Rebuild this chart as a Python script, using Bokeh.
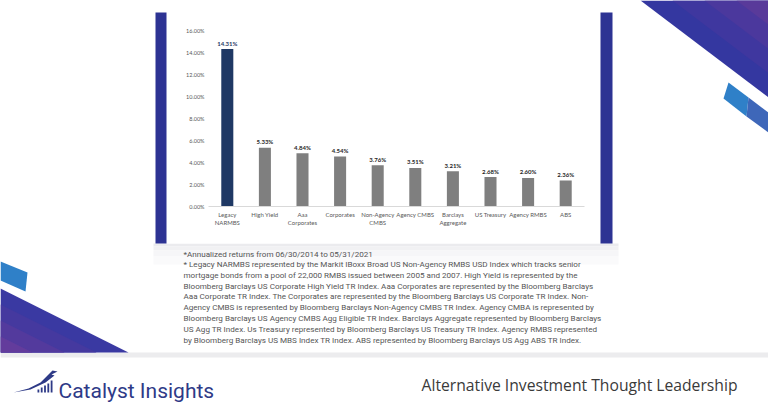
from bokeh.plotting import figure
from bokeh.models import (Range1d, LinearAxis, FixedTicker, PrintfTickFormatter,
                          ColumnDataSource)
from bokeh.embed import file_html
from bokeh.resources import INLINE
from bokeh.core.properties import value

# ---------------- data ----------------
categories = ["Legacy NARMBS", "High Yield", "Aaa Corporates", "Corporates",
              "Non-Agency CMBS", "Agency CMBS", "Barclays Aggregate",
              "US Treasury", "Agency RMBS", "ABS"]
label_line1 = ["Legacy", "High Yield", "Aaa", "Corporates", "Non-Agency",
               "Agency CMBS", "Barclays", "US Treasury", "Agency RMBS", "ABS"]
label_line2 = ["NARMBS", "", "Corporates", "", "CMBS", "", "Aggregate", "", "", ""]
returns = [14.31, 5.33, 4.84, 4.54, 3.76, 3.51, 3.21, 2.68, 2.60, 2.36]
y_ticks = [0, 2, 4, 6, 8, 10, 12, 14, 16]

footnotes = [
    "*Annualized returns from 06/30/2014 to 05/31/2021",
    "* Legacy NARMBS represented by the Markit IBoxx Broad US Non-Agency RMBS USD Index which tracks senior",
    "mortgage bonds from a pool of 22,000 RMBS issued between 2005 and 2007. High Yield is represented by the",
    "Bloomberg Barclays US Corporate High Yield TR Index. Aaa Corporates are represented by the Bloomberg Barclays",
    "Aaa Corporate TR Index. The Corporates are represented by the Bloomberg Barclays US Corporate TR Index. Non-",
    "Agency CMBS is represented by Bloomberg Barclays Non-Agency CMBS TR Index. Agency CMBA is represented by",
    "Bloomberg Barclays US Agency CMBS Agg Eligible TR Index. Barclays Aggregate represented by Bloomberg Barclays",
    "US Agg TR Index. Us Treasury represented by Bloomberg Barclays US Treasury TR Index. Agency RMBS represented",
    "by Bloomberg Barclays US MBS Index TR Index. ABS represented by Bloomberg Barclays US Agg ABS TR Index.",
]
brand = "Catalyst Insights"
tagline = "Alternative Investment Thought Leadership"

# ---------------- layout (pixels) ----------------
W, H = 768, 410
CH_L, CH_R = 208, 584        # chart plotting area, x
CH_ZERO, CH_TOP = 206, 30    # pixel rows of 0% and 16%
Y_MAX = 16
n = len(categories)
ux = (CH_R - CH_L) / n
uy = (CH_ZERO - CH_TOP) / Y_MAX

p = figure(width=W, height=H, x_range=Range1d(0, W), y_range=Range1d(H, 0),
           x_axis_type=None, y_axis_type=None, output_backend="svg",
           toolbar_location=None, min_border=0)
p.min_border_left = p.min_border_right = p.min_border_top = p.min_border_bottom = 0
p.outline_line_color = None
p.background_fill_color = "white"
p.border_fill_color = "white"
p.grid.visible = False
p.extra_x_ranges = {"idx": Range1d(-CH_L / ux, n + (W - CH_R) / ux)}
p.extra_y_ranges = {"pct": Range1d(-(H - CH_ZERO) / uy, Y_MAX + CH_TOP / uy)}

# ---------------- background decorations ----------------
def box(l, r, t, b, color):
    p.quad(left=l, right=r, top=t, bottom=b, fill_color=color, line_color=None)


def poly(xs, ys, color):
    p.patch(xs, ys, fill_color=color, line_color=None)


# soft shadow under the panel and footer separator
for t, b, col in [(243, 246, "#ebebee"), (246, 250, "#f1f1f3"),
                  (250, 256, "#f6f6f8"), (256, 264, "#fafafb")]:
    box(153, 618, t, b, col)
box(0, W, 352, 357, "#ececee")

# top-right purple triangle (gradient by nested triangles)
for s, col in [(1.0, "#3437a0"), (0.75, "#3f379f"), (0.5, "#4b389d"), (0.25, "#593a9a")]:
    poly([768 - 128 * s, 768, 768], [0, 0, 97 * s], col)
# top-right blue strip
poly([728, 748, 746, 723], [82, 97, 116, 98], "#2f80c8")
poly([748, 768, 768, 746], [97, 112, 132, 116], "#3e67b9")

# bottom-left purple triangle
for s, col in [(1.0, "#3a39a2"), (0.75, "#45399f"), (0.5, "#533a9d"), (0.25, "#633c9c")]:
    poly([0, 128 * s, 0], [352 - 64 * s, 352, 352], col)
# bottom-left blue strip
poly([0, 27, 25, 0], [261, 272, 291, 280], "#2f80c8")

# chart panel with navy side bars
box(166, 600, 12, 243, "white")
box(155, 166, 12, 243, "#2d3393")
box(600, 612, 12, 243, "#2d3393")

# ---------------- bar chart ----------------
CHART_FONT = "Lato"
xs = [i + 0.5 for i in range(n)]
colors = ["#1f3864"] + ["#7f7f7f"] * (n - 1)
label_colors = ["#1f3864"] + ["#262626"] * (n - 1)
src = ColumnDataSource(dict(x=xs, val=returns, color=colors, lcolor=label_colors,
                            txt=[f"{v:.2f}%" for v in returns]))
p.vbar(x="x", top="val", width=0.32, source=src, fill_color="color",
       line_color=None, x_range_name="idx", y_range_name="pct")
p.text(x="x", y="val", text="txt", source=src, text_align="center",
       text_baseline="bottom", y_offset=-2.5, text_font_size="6px",
       text_font_style="bold", text_color="lcolor", text_font=value(CHART_FONT),
       x_range_name="idx", y_range_name="pct")

axis_common = dict(x_range_name="idx", y_range_name="pct", fixed_location=0,
                   major_tick_line_color=None, minor_tick_line_color=None,
                   major_tick_out=0, major_tick_in=0,
                   minor_tick_out=0, minor_tick_in=0,
                   major_label_text_color="#595959",
                   major_label_text_font=CHART_FONT)

yaxis = LinearAxis(ticker=FixedTicker(ticks=y_ticks),
                   formatter=PrintfTickFormatter(format="%.2f%%"),
                   axis_line_color=None, major_label_standoff=4,
                   major_label_text_font_size="5.5px", **axis_common)
p.add_layout(yaxis, "left")

xaxis = LinearAxis(bounds=(0, n), ticker=FixedTicker(ticks=xs),
                   major_label_overrides=dict(zip(xs, label_line1)),
                   axis_line_color="#d9d9d9", major_label_standoff=4,
                   major_label_text_font_size="6px", **axis_common)
p.add_layout(xaxis, "below")

xaxis2 = LinearAxis(bounds=(0, n),
                    ticker=FixedTicker(ticks=[x for x, s in zip(xs, label_line2) if s]),
                    major_label_overrides={x: s for x, s in zip(xs, label_line2) if s},
                    axis_line_color=None, major_label_standoff=12,
                    major_label_text_font_size="6px", **axis_common)
p.add_layout(xaxis2, "below")

# ---------------- footnotes ----------------
NOTE_FONT = "Roboto"
ys = [253] + [263.5 + 10.8 * i for i in range(len(footnotes) - 1)]
p.text(x=[183] * len(footnotes), y=ys, text=footnotes, text_font=value(NOTE_FONT),
       text_font_size="8.1px", text_color="#555555", text_baseline="middle",
       text_align="left")

# ---------------- footer ----------------
# logo icon: swoosh and bars
poly([13, 30, 45, 54, 51, 57, 52, 49, 40, 28],
     [392, 389, 382, 375, 374, 371, 370, 373, 382, 388], "#2e3a87")
for i, hgt in enumerate([3, 5, 7, 9, 12]):
    box(37 + i * 3.3, 38.8 + i * 3.3, 392 - hgt, 392, "#2e3a87")

p.text(x=[58], y=[390], text=[brand], text_font=value("Roboto"),
       text_font_size="21px", text_color="#2e3a87", text_baseline="alphabetic")
p.text(x=[737], y=[384], text=[tagline], text_font=value("Open Sans"),
       text_font_size="15.7px", text_color="#3a3a3a", text_baseline="middle",
       text_align="right")

open("out.html", "w").write(file_html(p, INLINE))
